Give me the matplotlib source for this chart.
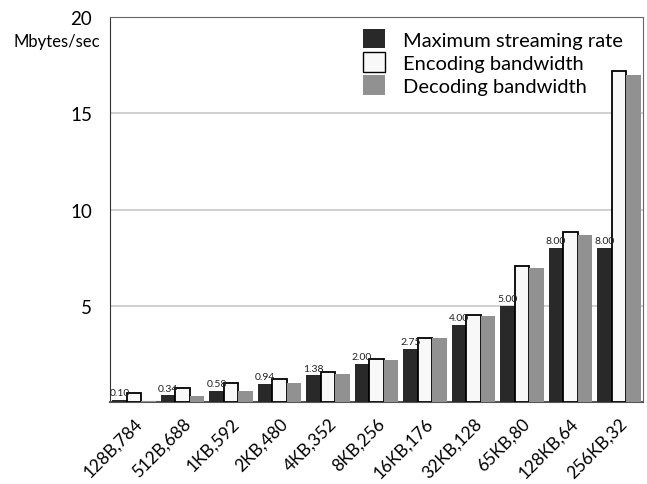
import numpy as np
import matplotlib
matplotlib.use('Agg')
import matplotlib.pyplot as plt
from matplotlib.patches import Patch

# ---------------------------------------------------------------------------
# Datos
# ---------------------------------------------------------------------------
categories = ["128B,784", "512B,688", "1KB,592", "2KB,480", "4KB,352", "8KB,256",
              "16KB,176", "32KB,128", "65KB,80", "128KB,64", "256KB,32"]
max_rate = [0.10, 0.34, 0.58, 0.94, 1.38, 2.00, 2.75, 4.00, 5.00, 8.00, 8.00]
encoding = [0.45, 0.74, 0.97, 1.18, 1.54, 2.22, 3.32, 4.54, 7.05, 8.83, 17.18]
decoding = [0.05, 0.31, 0.57, 1.00, 1.47, 2.18, 3.30, 4.48, 6.96, 8.68, 17.00]
rate_labels = ["0.10", "0.34", "0.58", "0.94", "1.38", "2.00", "2.75", "4.00", "5.00", "8.00", "8.00"]

plt.rcParams['font.family'] = ['Lato', 'DejaVu Sans']

fig = plt.figure(figsize=(6.47, 4.85), dpi=100)
ax = fig.add_axes([110 / 647, 1 - 403 / 485, 533 / 647, 385 / 485])

x = np.arange(len(categories))
w = 0.30
c_black = "#292929"
c_white = "#f8f8f8"
c_gray = "#919191"

ax.bar(x - w, max_rate, w, color=c_black, zorder=3)
ax.bar(x, encoding, w, color=c_white, edgecolor="black", linewidth=1.3, zorder=3)
ax.bar(x + w, decoding, w, color=c_gray, zorder=3)

for xi, v, lab in zip(x, max_rate, rate_labels):
    ax.text(xi - w, v + 0.15, lab, ha="center", va="bottom", fontsize=7.5,
            color="#222222", zorder=4)

ax.set_xlim(-0.5, len(categories) - 0.5)
ax.set_ylim(0, 20)
ax.set_yticks([5, 10, 15, 20])
ax.set_yticklabels(["5", "10", "15", "20"], fontsize=13.5)
ax.tick_params(axis="y", length=0, pad=13)
ax.set_xticks(x)
ax.set_xticklabels(categories, rotation=45, ha="right", rotation_mode="anchor",
                   fontsize=12.5)
ax.tick_params(axis="x", length=0, pad=9)

ax.yaxis.grid(True, color="#c8c8c8", linewidth=1.2, zorder=0)
ax.set_axisbelow(True)
for side in ["top", "right"]:
    ax.spines[side].set_color("#666666")
ax.spines["left"].set_color("#333333")
ax.spines["bottom"].set_color("#555555")
ax.spines["bottom"].set_linewidth(1.5)

fig.text(100 / 647, 1 - 42 / 485, "Mbytes/sec", ha="right", va="center", fontsize=12)

handles = [Patch(facecolor=c_black),
           Patch(facecolor=c_white, edgecolor="black", linewidth=1),
           Patch(facecolor=c_gray)]
ax.legend(handles, ["Maximum streaming rate", "Encoding bandwidth", "Decoding bandwidth"],
          loc="upper right", frameon=False, fontsize=14.5, handlelength=1.1,
          handleheight=1.1, handletextpad=0.9, labelspacing=0.18,
          bbox_to_anchor=(0.985, 1.0), borderaxespad=0.2)

fig.savefig("out.png", dpi=100)
